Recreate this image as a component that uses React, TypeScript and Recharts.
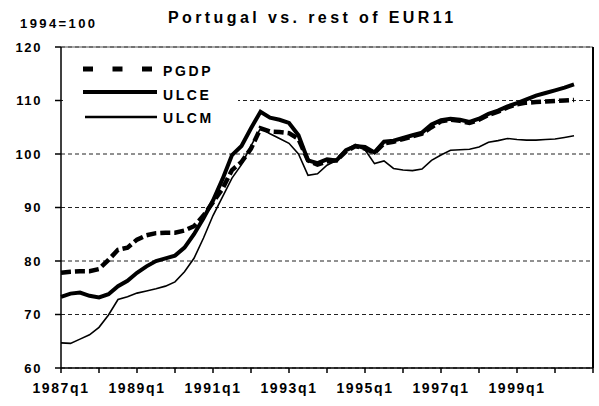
import React from "react";
import {
  LineChart,
  Line,
  XAxis,
  YAxis,
  CartesianGrid,
  ReferenceLine,
} from "recharts";

// quarters 1987q1 .. 2001q1 (axis runs one quarter past the data on each tick)
const startYear = 1987;
const endYear = 2001;
const quarters: string[] = [];
for (let y = startYear; y <= endYear; y++) {
  for (let q = 1; q <= 4; q++) {
    if (y === endYear && q > 1) break;
    quarters.push(`${y}q${q}`);
  }
}

const xLabels = ["1987q1", "1989q1", "1991q1", "1993q1", "1995q1", "1997q1", "1999q1"];
const yTicks = [60, 70, 80, 90, 100, 110, 120];

// 1987q1 .. 2000q3
const pgdp = [
  77.8, 78.0, 78.1, 78.1, 78.5, 80.2, 82.1, 82.5, 84.0, 84.8,
  85.2, 85.3, 85.3, 85.7, 86.5, 88.5, 91.0, 93.5, 97.0, 98.5,
  101.0, 104.8, 104.2, 104.1, 103.9, 102.8, 98.8, 98.0, 98.6, 98.8,
  100.5, 101.5, 101.0, 100.2, 102.0, 102.3, 102.8, 103.3, 103.8, 105.0,
  106.1, 106.4, 106.2, 105.8, 106.4, 107.3, 107.9, 108.7, 109.3, 109.6,
  109.7, 109.8, 109.9, 110.0, 110.1,
];
const ulce = [
  73.3, 73.9, 74.1, 73.5, 73.2, 73.8, 75.3, 76.3, 77.8, 79.0,
  80.0, 80.5, 81.0, 82.5, 85.0, 88.0, 91.3, 95.3, 99.8, 101.5,
  104.8, 107.9, 106.8, 106.4, 105.8, 103.5, 98.8, 98.3, 99.0, 98.8,
  100.7, 101.5, 101.3, 100.3, 102.3, 102.5, 103.0, 103.5, 104.0, 105.5,
  106.3, 106.6, 106.4, 106.0, 106.6, 107.5, 108.1, 108.9, 109.5, 110.2,
  110.9, 111.4, 111.9, 112.4, 113.0,
];
const ulcm = [
  64.7, 64.6, 65.4, 66.2, 67.6, 69.9, 72.8, 73.3, 74.0, 74.4,
  74.8, 75.3, 76.1, 78.0, 80.5, 84.3, 88.5, 92.0, 95.5, 98.0,
  101.5, 104.8, 103.8, 102.9, 102.0, 100.0, 96.0, 96.3, 97.9, 98.8,
  100.6, 101.5, 100.8, 98.2, 98.7, 97.3, 97.0, 96.9, 97.2, 98.8,
  99.8, 100.7, 100.8, 100.9, 101.3, 102.2, 102.5, 102.9, 102.7, 102.6,
  102.6, 102.7, 102.8, 103.1, 103.4,
];

const seriesNames = ["PGDP", "ULCE", "ULCM"];

const data = quarters.map((q, i) => ({
  q,
  PGDP: i < pgdp.length ? pgdp[i] : null,
  ULCE: i < ulce.length ? ulce[i] : null,
  ULCM: i < ulcm.length ? ulcm[i] : null,
}));

const font = "'Liberation Sans', Arial, sans-serif";

const App: React.FC = () => {
  return (
    <div
      style={{
        position: "absolute",
        left: 0,
        top: 0,
        width: 599,
        height: 406,
        background: "#fff",
        fontFamily: font,
      }}
    >
      <LineChart
        width={599}
        height={406}
        data={data}
        margin={{ top: 47, right: 6, bottom: 8, left: 11 }}
      >
        <CartesianGrid
          vertical={false}
          stroke="#222"
          strokeDasharray="4 3"
        />
        <ReferenceLine y={120} stroke="#555" strokeWidth={1} />
        <ReferenceLine x={quarters[quarters.length - 1]} stroke="#000" strokeWidth={2} />
        <XAxis
          dataKey="q"
          interval={3}
          height={30}
          tickSize={5}
          tickMargin={10}
          stroke="#000"
          strokeWidth={1.5}
          tick={{ fill: "#000", fontSize: 14, fontWeight: "bold", fontFamily: font, letterSpacing: 1.6 }}
          tickFormatter={(v: string) => (xLabels.includes(v) ? v : "")}
        />
        <YAxis
          domain={[60, 120]}
          ticks={yTicks}
          width={50}
          tickSize={6}
          tickMargin={13}
          stroke="#000"
          strokeWidth={1.5}
          tick={{ fill: "#000", fontSize: 13, fontWeight: "bold", fontFamily: font, letterSpacing: 1.6 }}
        />
        <Line
          dataKey="ULCM"
          type="linear"
          stroke="#000"
          strokeWidth={1.6}
          dot={false}
          isAnimationActive={false}
        />
        <Line
          dataKey="PGDP"
          type="linear"
          stroke="#000"
          strokeWidth={4.5}
          strokeDasharray="10 4"
          dot={false}
          isAnimationActive={false}
        />
        <Line
          dataKey="ULCE"
          type="linear"
          stroke="#000"
          strokeWidth={4}
          dot={false}
          isAnimationActive={false}
        />
      </LineChart>

      {/* titles and the in-plot legend */}
      <svg
        width={599}
        height={406}
        style={{ position: "absolute", left: 0, top: 0, pointerEvents: "none" }}
      >
        <text
          x={168}
          y={23}
          fontFamily={font}
          fontSize={16}
          fontWeight="bold"
          letterSpacing={3.4}
          fill="#000"
        >
          Portugal vs. rest of EUR11
        </text>
        <text x={20} y={28} fontFamily={font} fontSize={13} fontWeight="bold" letterSpacing={2.4} fill="#000">
          1994=100
        </text>

        <rect x={63} y={52} width={175} height={76} fill="#fff" />
        <line x1={83} y1={69} x2={157} y2={69} stroke="#000" strokeWidth={5} strokeDasharray="10 19.5" />
        <line x1={83} y1={92} x2={157} y2={92} stroke="#000" strokeWidth={4} />
        <line x1={85} y1={117} x2={157} y2={117} stroke="#000" strokeWidth={2.5} />
        {seriesNames.map((n, i) => (
          <text
            key={n}
            x={163}
            y={[76, 100, 123][i]}
            fontFamily={font}
            fontSize={14}
            fontWeight="bold"
            letterSpacing={2.6}
            fill="#000"
          >
            {n}
          </text>
        ))}
      </svg>
    </div>
  );
};

export default App;
